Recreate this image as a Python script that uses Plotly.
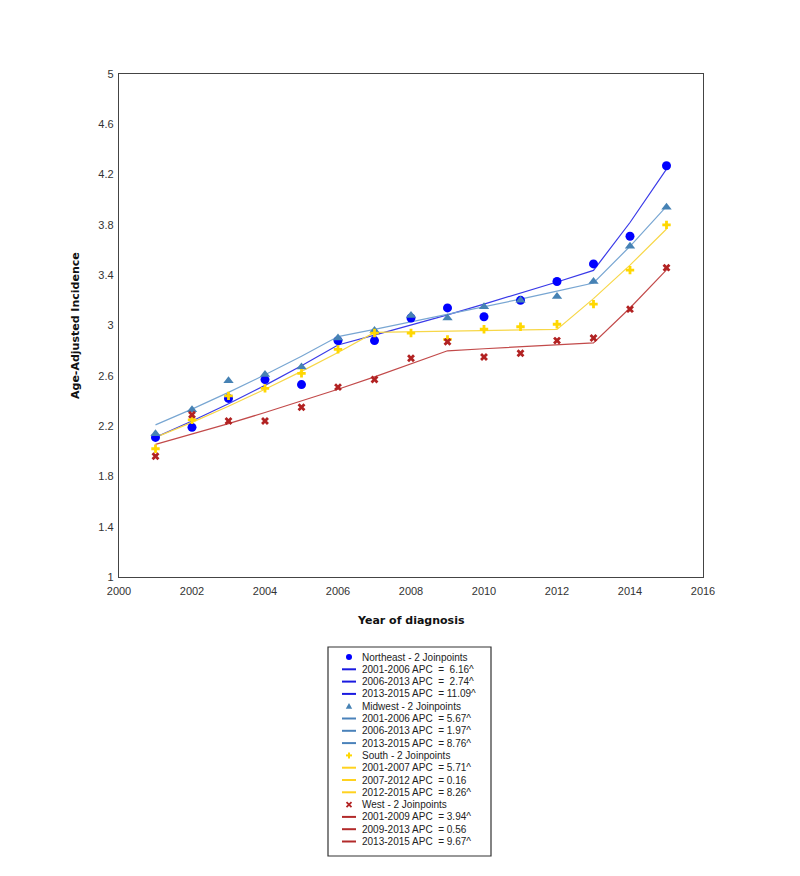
import plotly.graph_objects as go

# ---------------- data ----------------
years = list(range(2001, 2016))

northeast_obs = [2.11, 2.19, 2.42, 2.57, 2.53, 2.88, 2.88, 3.06, 3.14, 3.07, 3.20, 3.35, 3.49, 3.71, 4.27]
midwest_obs = [2.14, 2.33, 2.56, 2.61, 2.67, 2.90, 2.96, 3.08, 3.06, 3.15, 3.20, 3.23, 3.35, 3.63, 3.94]
south_obs = [2.02, 2.25, 2.44, 2.50, 2.62, 2.81, 2.94, 2.94, 2.89, 2.97, 2.99, 3.01, 3.17, 3.44, 3.80]
west_obs = [1.96, 2.29, 2.24, 2.24, 2.35, 2.51, 2.57, 2.74, 2.87, 2.75, 2.78, 2.88, 2.90, 3.13, 3.46]

northeast_fit = [2.110, 2.240, 2.378, 2.524, 2.680, 2.845, 2.923, 3.003, 3.085, 3.170, 3.257, 3.346, 3.438, 3.819, 4.243]
midwest_fit = [2.210, 2.335, 2.468, 2.608, 2.756, 2.912, 2.969, 3.028, 3.087, 3.148, 3.210, 3.273, 3.338, 3.630, 3.948]
south_fit = [2.110, 2.230, 2.358, 2.493, 2.635, 2.786, 2.945, 2.950, 2.954, 2.959, 2.964, 2.969, 3.214, 3.480, 3.767]
west_fit = [2.055, 2.136, 2.220, 2.308, 2.399, 2.493, 2.591, 2.693, 2.799, 2.815, 2.831, 2.846, 2.862, 3.139, 3.442]

region_labels = ["Northeast - 2 Joinpoints", "Midwest - 2 Joinpoints",
                 "South - 2 Joinpoints", "West - 2 Joinpoints"]
segment_labels = [
    ["2001-2006 APC  =  6.16^", "2006-2013 APC  =  2.74^", "2013-2015 APC  = 11.09^"],
    ["2001-2006 APC  = 5.67^", "2006-2013 APC  = 1.97^", "2013-2015 APC  = 8.76^"],
    ["2001-2007 APC  = 5.71^", "2007-2012 APC  = 0.16", "2012-2015 APC  = 8.26^"],
    ["2001-2009 APC  = 3.94^", "2009-2013 APC  = 0.56", "2013-2015 APC  = 9.67^"],
]

x_ticks = [2000, 2002, 2004, 2006, 2008, 2010, 2012, 2014, 2016]
y_ticks = [1, 1.4, 1.8, 2.2, 2.6, 3, 3.4, 3.8, 4.2, 4.6, 5]
y_tick_text = ["1", "1.4", "1.8", "2.2", "2.6", "3", "3.4", "3.8", "4.2", "4.6", "5"]

obs_series = [northeast_obs, midwest_obs, south_obs, west_obs]
fit_series = [northeast_fit, midwest_fit, south_fit, west_fit]

# ---------------- styles ----------------
marker_symbols = ["circle", "triangle-up", "cross", "x"]
marker_sizes = [9, 9, 7, 7]
marker_colors = ["#0000FF", "#4682B4", "#FFD700", "#B22222"]
line_colors = ["#3a3ae8", "#78a6d2", "#F7D748", "#C24A4A"]
legend_line_colors = ["#1a1ae0", "#4a82ba", "#FFD21F", "#B22A2A"]

fig = go.Figure()

for fit, col in zip(fit_series, line_colors):
    fig.add_trace(go.Scatter(x=years, y=fit, mode="lines",
                             line=dict(color=col, width=1.2),
                             showlegend=False, hoverinfo="skip"))

for obs, sym, sz, col in zip(obs_series, marker_symbols, marker_sizes, marker_colors):
    fig.add_trace(go.Scatter(x=years, y=obs, mode="markers",
                             marker=dict(symbol=sym, size=sz, color=col,
                                         line=dict(width=0)),
                             showlegend=False))

# ---------------- layout geometry (reference pixels) ----------------
W, H = 800, 876
OFFX, OFFY = 8, 7          # page body offset of the rendered figure
L, R, T, B = 119, 703, 73, 576


def px(x):
    return (x - L) / (R - L)


def py(y):
    return (B - y) / (B - T)


shapes = []
annotations = []

# axis titles
annotations.append(dict(text="<b>Year of diagnosis</b>", xref="paper", yref="paper",
                        x=px(411), y=py(619), xanchor="center", yanchor="middle",
                        showarrow=False,
                        font=dict(family="DejaVu Sans", size=11, color="#111111")))
annotations.append(dict(text="<b>Age-Adjusted Incidence</b>", xref="paper", yref="paper",
                        x=px(75), y=py(325), xanchor="center", yanchor="middle",
                        textangle=-90, showarrow=False,
                        font=dict(family="DejaVu Sans", size=11, color="#111111")))

# custom legend box
box_x0, box_x1, box_y0, box_y1 = 328, 491, 646, 855
shapes.append(dict(type="rect", xref="paper", yref="paper",
                   x0=px(box_x0), x1=px(box_x1), y0=py(box_y1), y1=py(box_y0),
                   line=dict(color="#333333", width=1.2), fillcolor="white"))

row0, row_step = 656, 12.3
mx, lx0, lx1, tx = 349, 342, 356, 360
legend_font = dict(family="Liberation Sans, Arial", size=10, color="#222222")
row = 0
for r in range(4):
    yc = row0 + row_step * row
    col = marker_colors[r]
    if marker_symbols[r] == "circle":
        shapes.append(dict(type="circle", xref="paper", yref="paper",
                           x0=px(mx - 3), x1=px(mx + 3), y0=py(yc + 3), y1=py(yc - 3),
                           fillcolor=col, line=dict(width=0)))
    elif marker_symbols[r] == "triangle-up":
        path = "M {} {} L {} {} L {} {} Z".format(px(mx - 3.2), py(yc + 2.6), px(mx + 3.2),
                                                  py(yc + 2.6), px(mx), py(yc - 3.2))
        shapes.append(dict(type="path", xref="paper", yref="paper", path=path,
                           fillcolor=col, line=dict(width=0)))
    elif marker_symbols[r] == "cross":
        shapes.append(dict(type="line", xref="paper", yref="paper",
                           x0=px(mx - 3), x1=px(mx + 3), y0=py(yc), y1=py(yc),
                           line=dict(color=col, width=2)))
        shapes.append(dict(type="line", xref="paper", yref="paper",
                           x0=px(mx), x1=px(mx), y0=py(yc - 3), y1=py(yc + 3),
                           line=dict(color=col, width=2)))
    else:
        shapes.append(dict(type="line", xref="paper", yref="paper",
                           x0=px(mx - 2.5), x1=px(mx + 2.5), y0=py(yc - 2.5), y1=py(yc + 2.5),
                           line=dict(color=col, width=1.8)))
        shapes.append(dict(type="line", xref="paper", yref="paper",
                           x0=px(mx - 2.5), x1=px(mx + 2.5), y0=py(yc + 2.5), y1=py(yc - 2.5),
                           line=dict(color=col, width=1.8)))
    annotations.append(dict(text=region_labels[r], xref="paper", yref="paper",
                            x=px(tx), y=py(yc), xanchor="left", yanchor="middle",
                            showarrow=False, font=legend_font))
    row += 1
    for seg in segment_labels[r]:
        yc = row0 + row_step * row
        shapes.append(dict(type="line", xref="paper", yref="paper",
                           x0=px(lx0), x1=px(lx1), y0=py(yc), y1=py(yc),
                           line=dict(color=legend_line_colors[r], width=2)))
        annotations.append(dict(text=seg.replace("  ", "\u00a0 "), xref="paper", yref="paper",
                                x=px(tx), y=py(yc), xanchor="left", yanchor="middle",
                                showarrow=False, font=legend_font))
        row += 1

axis_common = dict(showline=True, mirror=True, linecolor="#444444", linewidth=1.3,
                   showgrid=False, zeroline=False, ticks="",
                   tickfont=dict(family="Liberation Sans, Arial", size=11, color="#333333"))

ml = L - OFFX
mt = T - OFFY
mr = W - ml - (R - L)
mb = H - mt - (B - T)

fig.update_layout(
    width=W, height=H,
    margin=dict(l=ml, r=mr, t=mt, b=mb, pad=0),
    paper_bgcolor="white", plot_bgcolor="white",
    showlegend=False,
    xaxis=dict(range=[2000, 2016], tickvals=x_ticks, ticklabelstandoff=4, **axis_common),
    yaxis=dict(range=[1, 5], tickvals=y_ticks, ticktext=y_tick_text, ticklabelstandoff=2,
               **axis_common),
    shapes=shapes,
    annotations=annotations,
)

fig.write_html("out.html")
